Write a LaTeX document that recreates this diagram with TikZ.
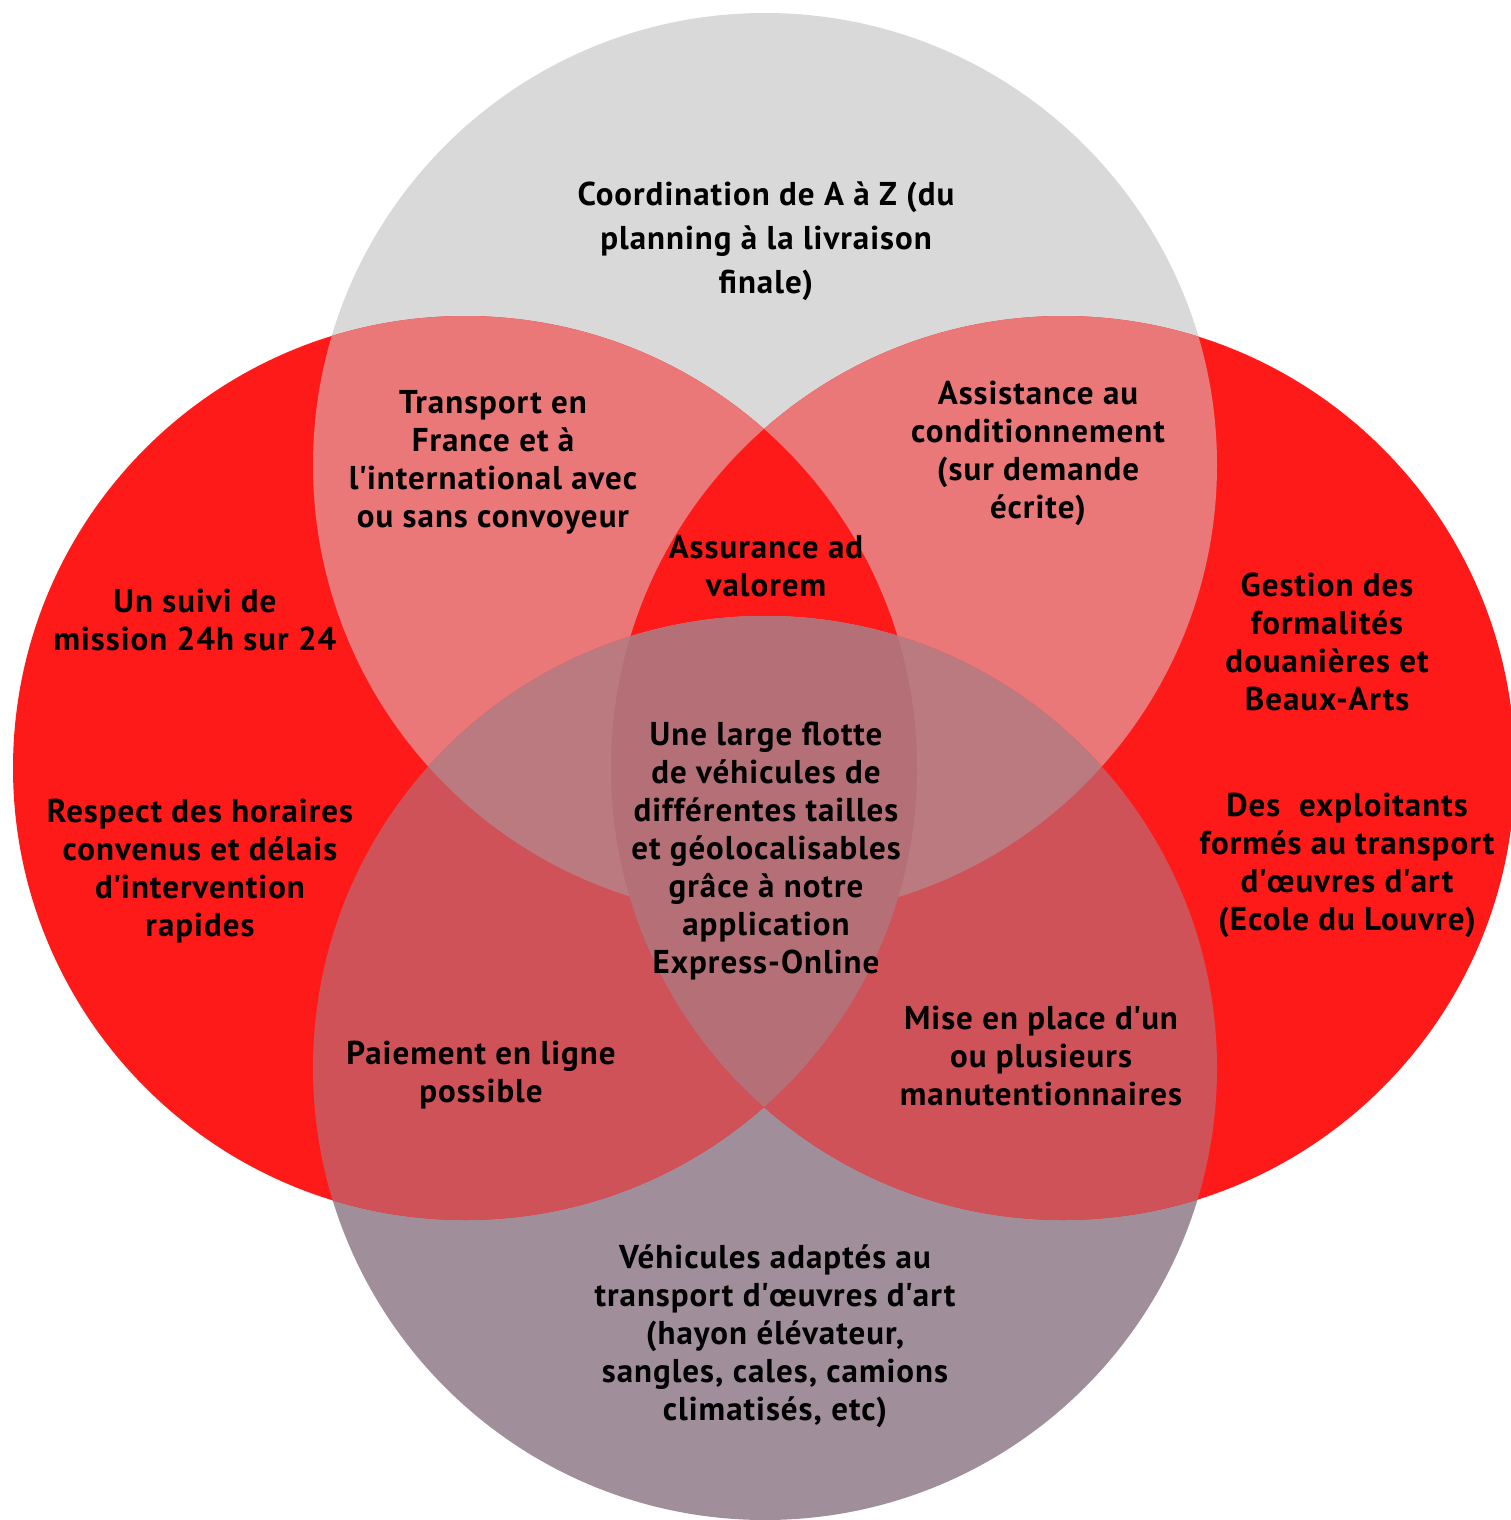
\documentclass[tikz,border=0pt]{standalone}
\usepackage{fontspec}
\setmainfont{PT Sans}[LetterSpace = 3]
\usepackage{xcolor}
\definecolor{vennGray}{HTML}{D9D9D9}
\definecolor{vennRed}{HTML}{FF1A1A}
\definecolor{vennPink}{HTML}{EA7878}
\definecolor{vennMauve}{HTML}{A08F9B}
\definecolor{vennRose}{HTML}{CE5257}
\definecolor{vennDusk}{HTML}{BA7A80}
\definecolor{vennPlum}{HTML}{B47076}
\newcommand{\q}{\textquotesingle}
\tikzset{venntext/.style = {align = center, inner sep = 0pt, text = black,
  font = \fontsize{33}{38}\selectfont\bfseries}}
\tikzset{venntop/.style = {venntext, font = \fontsize{33}{44}\selectfont\bfseries}}

\begin{document}
\begin{tikzpicture}[x = 1pt, y = -1pt]
\useasboundingbox (0,0) rectangle (1511,1520);
\coordinate (T) at (765,465);
\coordinate (L) at (465,768);
\coordinate (R) at (1063,768);
\coordinate (B) at (765,1068);
% plain circles
\fill [vennGray] (T) circle [radius = 452pt];
\fill [vennMauve] (B) circle [radius = 452pt];
\fill [vennRed] (L) circle [radius = 452pt];
\fill [vennRed] (R) circle [radius = 452pt];
% top overlaps
\begin{scope}
\clip (T) circle [radius = 452pt];
\fill [vennPink] (L) circle [radius = 452pt];
\fill [vennPink] (R) circle [radius = 452pt];
\clip (L) circle [radius = 452pt];
\fill [vennRed] (R) circle [radius = 452pt];
\end{scope}
% bottom overlaps
\begin{scope}
\clip (B) circle [radius = 452pt];
\fill [vennRose] (L) circle [radius = 452pt];
\fill [vennRose] (R) circle [radius = 452pt];
\end{scope}
\begin{scope}
\clip (B) circle [radius = 452pt];
\clip (T) circle [radius = 452pt];
\fill [vennDusk] (L) circle [radius = 452pt];
\fill [vennDusk] (R) circle [radius = 452pt];
\end{scope}
\begin{scope}
\clip (L) circle [radius = 452pt];
\clip (R) circle [radius = 452pt];
\fill [vennPlum] (B) circle [radius = 452pt];
\end{scope}
% texts
\node [venntop] (coord) at (766,241) {Coordination de A à Z (du\\planning à la livraison\\finale)};
\node [venntext] (transport) at (493,462) {Transport en\\France et à\\l\q international avec\\ou sans convoyeur};
\node [venntext] (assist) at (1038,453) {Assistance au\\conditionnement\\(sur demande\\écrite)};
\node [venntext] (assur) at (766,566) {Assurance ad\\valorem};
\node [venntext] (suivi) at (195,620) {Un suivi de\\mission 24h sur 24};
\node [venntext] (respect) at (200,871) {Respect des horaires\\convenus et délais\\d\q intervention\\rapides};
\node [venntext] (gestion) at (1327,642) {Gestion des\\formalités\\douanières et\\Beaux-Arts};
\node [venntext] (exploit) at (1347,865) {Des~ exploitants\\formés au transport\\d\q œuvres d\q art\\(Ecole du Louvre)};
\node [venntext] (flotte) at (766,851) {Une large flotte\\de véhicules de\\différentes tailles\\et géolocalisables\\grâce à notre\\application\\Express-Online};
\node [venntext] (paiement) at (481,1075) {Paiement en ligne\\possible};
\node [venntext] (manut) at (1041,1056) {Mise en place d\q un\\ou plusieurs\\manutentionnaires};
\node [venntext] (vehic) at (775,1336) {Véhicules adaptés au\\transport d\q œuvres d\q art\\(hayon élévateur,\\sangles, cales, camions\\climatisés, etc)};
\end{tikzpicture}
\end{document}
